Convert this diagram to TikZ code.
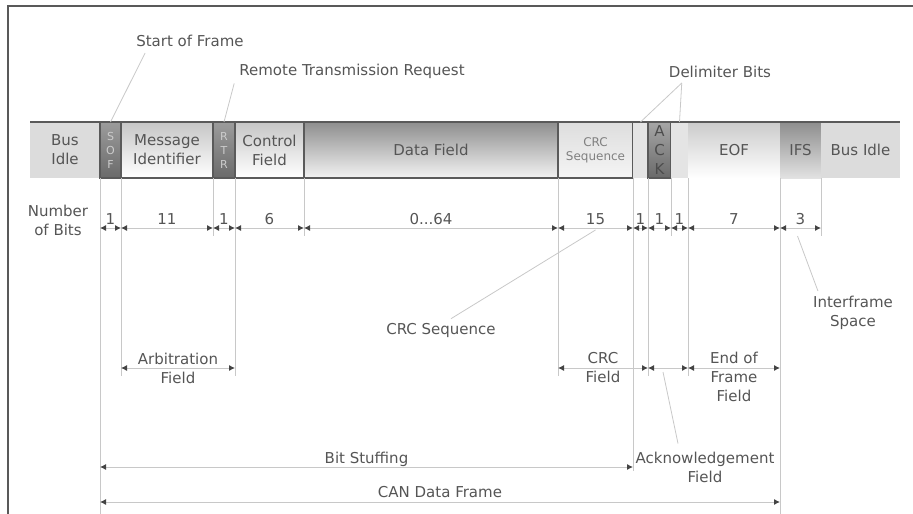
\documentclass[tikz,border=0pt]{standalone}
\usepackage{fontspec}
\setmainfont{DejaVu Sans}
\usetikzlibrary{arrows.meta,positioning,calc}

\definecolor{ink}{HTML}{555555}
\definecolor{edge}{HTML}{5A5A5A}
\definecolor{idlegray}{HTML}{DCDCDC}
\definecolor{delgray}{HTML}{E4E4E4}
\definecolor{darktop}{HTML}{9C9C9C}
\definecolor{darkbot}{HTML}{6A6A6A}
\definecolor{lighttop}{HTML}{C6C6C6}
\definecolor{datatop}{HTML}{8E8E8E}
\definecolor{crctop}{HTML}{DDDDDD}
\definecolor{eoftop}{HTML}{CBCBCB}
\definecolor{ifstop}{HTML}{8E8E8E}
\definecolor{ifsbot}{HTML}{E2E2E2}
\definecolor{extgray}{HTML}{C8C8C8}

\begin{document}
\begin{tikzpicture}[x=1pt, y=-1pt,
    every node/.style={text=ink, font=\fontsize{15}{19}\selectfont},
    seg/.style={minimum height=56pt, inner sep=0pt, outer sep=0pt, align=center},
    idle/.style={seg, fill=idlegray},
    bitbox/.style={seg, draw=edge, line width=1.2pt, top color=darktop, bottom color=darkbot,
        font=\fontsize{11}{14}\selectfont, text=gray!40},
    field/.style={seg, draw=edge, line width=1.2pt, top color=lighttop, bottom color=white},
    ext/.style={extgray, line width=0.8pt},
    dim/.style={{Latex[length=6pt,width=6pt,color=ink!80!black]}-{Latex[length=6pt,width=6pt,color=ink!80!black]},
        extgray, line width=0.9pt},
    lead/.style={extgray, line width=0.8pt},
    note/.style={align=center, inner sep=0pt},
    count/.style={above=3pt, inner sep=0pt}
]
\useasboundingbox (0,0) rectangle (913,514);
\draw[gray!70!black, line width=1.2pt] (8,514) -- (8,6) -- (913,6);

% the frame bar
\node[idle, minimum width=70pt, anchor=north west] (idleL) at (30,122) {Bus\\Idle};
\node[bitbox, minimum width=21pt, right=0pt of idleL] (sof) {S\\O\\F};
\node[field, minimum width=92pt, right=0pt of sof] (msgid) {Message\\Identifier};
\node[bitbox, minimum width=22pt, right=0pt of msgid] (rtr) {R\\T\\R};
\node[field, minimum width=69pt, right=0pt of rtr] (ctrl) {Control\\Field};
\node[field, minimum width=254pt, right=0pt of ctrl, top color=datatop, bottom color=white!95!black] (data) {Data Field};
\node[field, minimum width=75pt, right=0pt of data, top color=crctop, bottom color=white!96!black,
    font=\fontsize{12}{14}\selectfont, text=gray] (crcseq) {CRC\\Sequence};
\node[idle, minimum width=15pt, right=0pt of crcseq, fill=delgray] (crcdel) {};
\node[bitbox, minimum width=23pt, right=0pt of crcdel, font=\fontsize{15}{19}\selectfont, text=ink!90!black,
    top color=darktop!90, bottom color=darkbot] (ack) {A\\C\\K};
\node[idle, minimum width=17pt, right=0pt of ack, fill=delgray] (ackdel) {};
\node[seg, minimum width=92pt, right=0pt of ackdel, top color=eoftop, bottom color=white] (eof) {EOF};
\node[seg, minimum width=41pt, right=0pt of eof, top color=ifstop, bottom color=ifsbot] (ifs) {IFS};
\node[idle, minimum width=79pt, right=0pt of ifs] (idleR) {Bus Idle};
\draw[edge, line width=1.5pt] (idleL.north west) -- (idleR.north east);

% rows
\coordinate (bits) at (0,228);
\coordinate (fields) at (0,368);
\coordinate (stuff) at (0,467);
\coordinate (whole) at (0,502);
\coordinate (bitfoot) at (0,236);
\coordinate (fieldfoot) at (0,376);
\coordinate (stufffoot) at (0,471);
\coordinate (floor) at (0,514);

\foreach \b/\e in {sof/floor, msgid/fieldfoot, rtr/bitfoot, ctrl/fieldfoot, data/bitfoot,
    crcseq/fieldfoot, crcdel/stufffoot, ack/fieldfoot, ackdel/bitfoot, eof/fieldfoot,
    ifs/floor, idleR/bitfoot}
  \draw[ext] (\b.south west) -- (\b.south west |- \e);

\node[note] (nbits) at (58,220) {Number\\of Bits};

% bit counts
\foreach \a/\b/\t in {sof/msgid/1, msgid/rtr/11, rtr/ctrl/1, ctrl/data/6, crcseq/crcdel/15,
    crcdel/ack/1, ack/ackdel/1, ackdel/eof/1, eof/ifs/7, ifs/idleR/3}
  \draw[dim] (\a.south west |- bits) -- node[count] (cnt-\a) {\t} (\b.south west |- bits);
\draw[dim] (data.south west |- bits) -- node[count] (cnt-data) {0...64} (crcseq.south west |- bits);

% field spans
\draw[dim] (msgid.south west |- fields) -- node[note] (arbit) {Arbitration\\Field} (ctrl.south west |- fields);
\draw[dim] (crcseq.south west |- fields) -- node[note] (crcfield) {CRC\\Field} (ack.south west |- fields);
\draw[dim] (ack.south west |- fields) -- coordinate (ackmid) (eof.south west |- fields);
\draw[dim] (eof.south west |- fields) -- node[note, yshift=-9pt] (eoffield) {End of\\Frame\\Field} (ifs.south west |- fields);
\draw[dim] (sof.south west |- stuff) -- node[above=0pt, inner sep=0pt] (bitstuff) {Bit Stuffing} (crcdel.south west |- stuff);
\draw[dim] (sof.south west |- whole) -- node[above=4pt, inner sep=0pt] (candata) {CAN Data Frame} (ifs.south west |- whole);

% notes and leaders
\node[note] (sofnote) at (190,41) {Start of Frame};
\node[note] (rtrnote) at (352,71) {Remote Transmission Request};
\node[note] (delnote) at (720,72) {Delimiter Bits};
\node[note] (crcnote) at (441,330) {CRC Sequence};
\node[note] (ifsnote) at (853,313) {Interframe\\Space};
\node[note] (acknote) at (705,467) {Acknowledgement\\Field};
\coordinate (crcmid) at ($(crcseq.south west |- bits)!0.5!(crcdel.south west |- bits)$);
\coordinate (ifsmid) at ($(ifs.south west |- bits)!0.5!(idleR.south west |- bits)$);

\draw[lead] ([xshift=9pt,yshift=-6pt]sofnote.south west) -- (sof.north);
\draw[lead] ([xshift=-5pt,yshift=-5pt]rtrnote.south west) -- (rtr.north);
\draw[lead] ([xshift=13pt,yshift=-5pt]delnote.south west) -- (crcdel.north);
\draw[lead] ([xshift=13pt,yshift=-5pt]delnote.south west) -- (ackdel.north);
\draw[lead] ([xshift=10pt,yshift=4pt]crcnote.north) -- ([yshift=-2pt]crcmid);
\draw[lead] ([xshift=5pt,yshift=5pt]ifsnote.north west) -- ([xshift=-3pt,yshift=-8pt]ifsmid);
\draw[lead] ([xshift=-27pt,yshift=8pt]acknote.north) -- ([xshift=-5pt,yshift=-4pt]ackmid);
\end{tikzpicture}
\end{document}
